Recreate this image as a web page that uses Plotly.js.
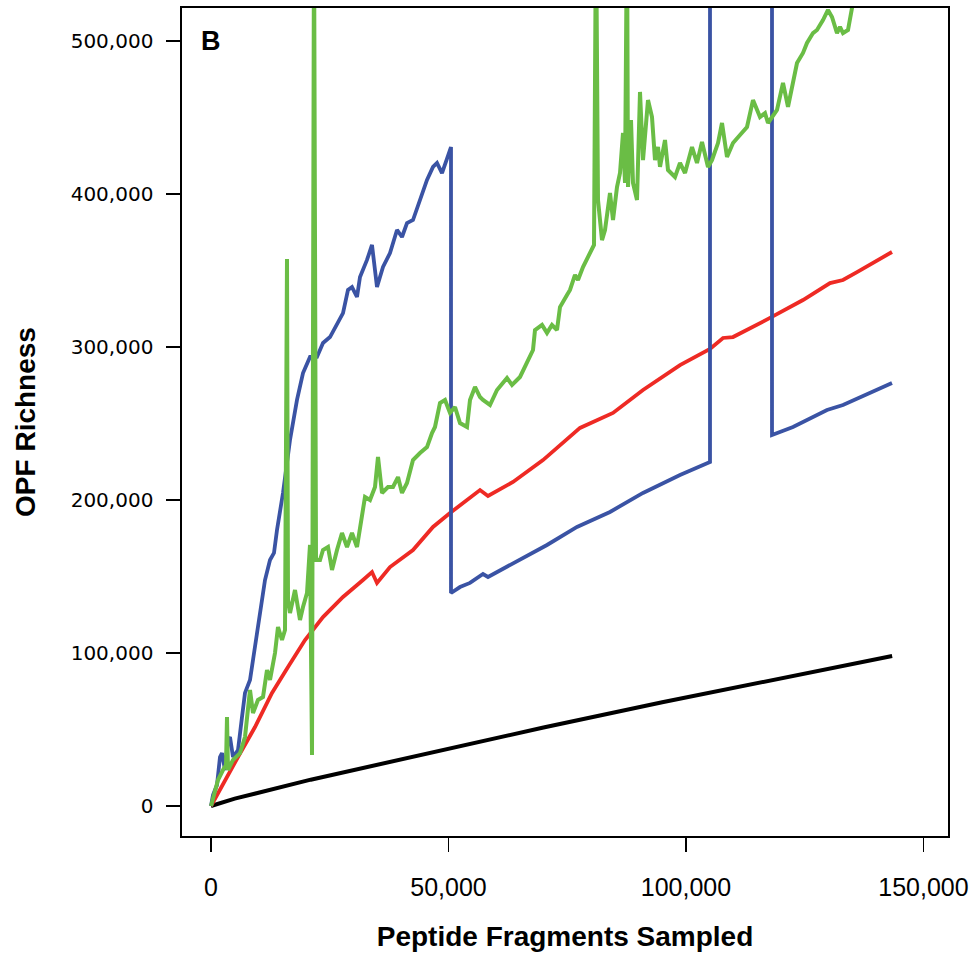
<!DOCTYPE html>
<html>
<head>
<meta charset="utf-8">
<script src="https://cdn.plot.ly/plotly-3.0.1.min.js"></script>
<style>html,body{margin:0;padding:0;background:#fff;}#chart{width:973px;height:961px;}</style>
</head>
<body>
<div id="chart"></div>
<script>
// Axis ticks
const xTickVals = [0, 50000, 100000, 150000];
const xTickText = ['0', '50,000', '100,000', '150,000'];
const yTickVals = [0, 100000, 200000, 300000, 400000, 500000];
const yTickText = ['0', '100,000', '200,000', '300,000', '400,000', '500,000'];

// Black series
const blackX = [0, 5000, 21000, 45000, 70000, 95000, 120000, 143400];
const blackY = [0, 4800, 17200, 34200, 51300, 67800, 83400, 98000];

// Red series
const redX = [0, 2947, 5684, 9263, 12842, 16211, 19790, 23579, 27790, 32000, 33895, 34948, 37685, 42527, 46738, 50317, 56633, 58317, 63580, 69896, 73475, 77054, 77686, 84633, 90949, 98739, 105054, 107791, 109897, 117686, 124634, 130318, 133055, 136002, 143371];
const redY = [0, 17000, 32000, 51600, 73900, 90900, 108500, 123500, 136600, 147700, 152900, 145800, 156200, 167300, 182400, 191500, 206500, 202600, 211800, 226100, 236000, 245800, 247100, 256900, 271900, 288200, 298700, 305900, 306500, 319000, 330700, 341800, 343800, 349000, 362100];

// Blue series (values above the axis top leave the plot)
const blueX = [0, 421, 1263, 1895, 2316, 2947, 3579, 4000, 4632, 5684, 6526, 7158, 8211, 9263, 10316, 11369, 12421, 13263, 13895, 15158, 16632, 18106, 19369, 20842, 22316, 23579, 25053, 26527, 27790, 28843, 29685, 30737, 31369, 32843, 33895, 34948, 36211, 37685, 39159, 40211, 41264, 42527, 44001, 45474, 46738, 47580, 48632, 49685, 50527, 50527, 52422, 54527, 55790, 57264, 58317, 63580, 70738, 77054, 84001, 90949, 98739, 105054, 105054, 118107, 118107, 122528, 129686, 133055, 136634, 143371];
const blueY = [0, 7200, 13700, 32000, 34600, 23500, 43100, 45100, 32000, 36600, 58200, 73900, 82400, 103900, 123500, 147700, 160800, 165400, 180400, 204600, 239200, 265400, 283000, 293500, 293500, 302600, 306500, 315700, 322200, 337300, 339200, 332700, 345800, 356900, 366700, 339200, 352300, 361400, 376500, 371900, 381000, 383000, 396100, 409200, 417700, 420300, 413700, 422200, 430700, 139200, 143100, 145800, 148400, 151600, 149700, 158800, 170600, 182400, 192200, 204600, 216300, 224800, 580000, 580000, 242500, 247700, 258800, 262100, 267300, 276500];

// Green series
const greenX = [0, 1474, 2526, 3158, 3368, 3579, 4632, 6105, 7158, 8211, 8842, 9895, 10948, 11790, 12421, 13474, 14106, 14948, 15579, 16000, 16211, 16632, 17685, 18737, 19369, 20211, 20842, 21264, 21685, 22106, 22948, 23579, 24632, 25474, 26527, 27579, 28632, 29685, 30737, 31369, 32422, 33474, 34527, 35159, 36001, 37264, 38316, 39369, 40211, 41264, 42527, 44001, 45474, 46527, 47159, 48211, 49264, 50317, 51369, 52422, 53896, 54527, 55580, 56633, 57264, 58738, 60212, 62317, 63370, 65054, 66527, 67791, 68212, 69685, 70738, 71791, 72843, 73475, 74949, 75580, 76633, 77265, 78317, 79791, 80633, 81054, 81475, 82317, 82949, 84001, 84633, 85475, 86107, 86738, 87159, 87580, 87791, 88423, 88844, 89686, 90317, 90949, 92002, 92844, 93475, 94107, 94528, 95581, 96212, 97686, 98739, 99791, 101265, 102318, 103370, 104633, 105476, 106739, 107581, 108633, 109897, 111370, 112844, 114107, 115581, 116634, 117265, 119160, 120423, 121476, 123371, 124634, 125476, 126739, 127581, 128844, 129897, 130739, 131792, 132423, 133055, 134108, 134950, 135600];
const greenY = [0, 17000, 23500, 26800, 58200, 23500, 30100, 34600, 45100, 75800, 60800, 69300, 71200, 88900, 82400, 100000, 117000, 108500, 115000, 357500, 134600, 126100, 141200, 121600, 130100, 139200, 170600, 33300, 580000, 160800, 160800, 167300, 169300, 154300, 167300, 178400, 169300, 178400, 169300, 182400, 202000, 200000, 208500, 228100, 204600, 208500, 208500, 215000, 204600, 211100, 226100, 230700, 234600, 243800, 247700, 263400, 265400, 256900, 260800, 250300, 247700, 265400, 273900, 267300, 265400, 262100, 271900, 279700, 275200, 280400, 290200, 298000, 311100, 314400, 309200, 314400, 311100, 326100, 334000, 337300, 347100, 343800, 352300, 361400, 366700, 580000, 396100, 369900, 376500, 400700, 383000, 404600, 413700, 439900, 407200, 580000, 404600, 448400, 407200, 396100, 466700, 422200, 461400, 450300, 422200, 430700, 417700, 435300, 415700, 411100, 420300, 413700, 430700, 420300, 434000, 417700, 422200, 433300, 446400, 424200, 433300, 438600, 443800, 461400, 450300, 452900, 446400, 454900, 472600, 456900, 485600, 492200, 498700, 505200, 507200, 513700, 520300, 515700, 505200, 509200, 505200, 507200, 521600, 545000];

function line(x, y, color, width) {
  return {x: x, y: y, type: 'scatter', mode: 'lines', hoverinfo: 'skip',
          line: {color: color, width: width, shape: 'linear'}, showlegend: false};
}

const traces = [
  line(blackX, blackY, '#000000', 4),
  line(redX, redY, '#EE2A24', 3.8),
  line(blueX, blueY, '#3A53A4', 3.8),
  line(greenX, greenY, '#6ABD45', 4)
];

const layout = {
  width: 973, height: 961,
  margin: {l: 182, r: 25, t: 8, b: 125, pad: 0},
  paper_bgcolor: '#ffffff', plot_bgcolor: '#ffffff',
  showlegend: false,
  xaxis: {
    range: [-6105, 155161], autorange: false,
    tickvals: xTickVals, ticktext: xTickText,
    ticks: 'outside', ticklen: 14, tickwidth: 1.3, tickcolor: '#000',
    showline: true, mirror: true, linecolor: '#000', linewidth: 1.6,
    showgrid: false, zeroline: false, automargin: false,
    ticklabelstandoff: 14,
    tickfont: {family: 'Liberation Sans, Arial, sans-serif', size: 25, color: '#000'},
    title: {text: '<b>Peptide Fragments Sampled</b>', standoff: 27,
            font: {family: 'Liberation Sans, Arial, sans-serif', size: 28, color: '#000'}}
  },
  yaxis: {
    range: [-19608, 521573], autorange: false,
    tickvals: yTickVals, ticktext: yTickText,
    ticks: 'outside', ticklen: 14, tickwidth: 1.3, tickcolor: '#000',
    showline: true, mirror: true, linecolor: '#000', linewidth: 1.6,
    showgrid: false, zeroline: false, automargin: false,
    ticklabelstandoff: 9,
    tickfont: {family: 'DejaVu Sans, sans-serif', size: 20, color: '#000'},
    title: {text: '<b>OPF Richness</b>', standoff: 27,
            font: {family: 'Liberation Sans, Arial, sans-serif', size: 28, color: '#000'}}
  },
  annotations: [{
    xref: 'x', yref: 'y', x: 0, y: 500000, text: '<b>B</b>', showarrow: false,
    xanchor: 'center', yanchor: 'middle',
    font: {family: 'Liberation Sans, Arial, sans-serif', size: 27, color: '#000'}
  }]
};

Plotly.newPlot('chart', traces, layout, {displayModeBar: false, staticPlot: true});
</script>
</body>
</html>
